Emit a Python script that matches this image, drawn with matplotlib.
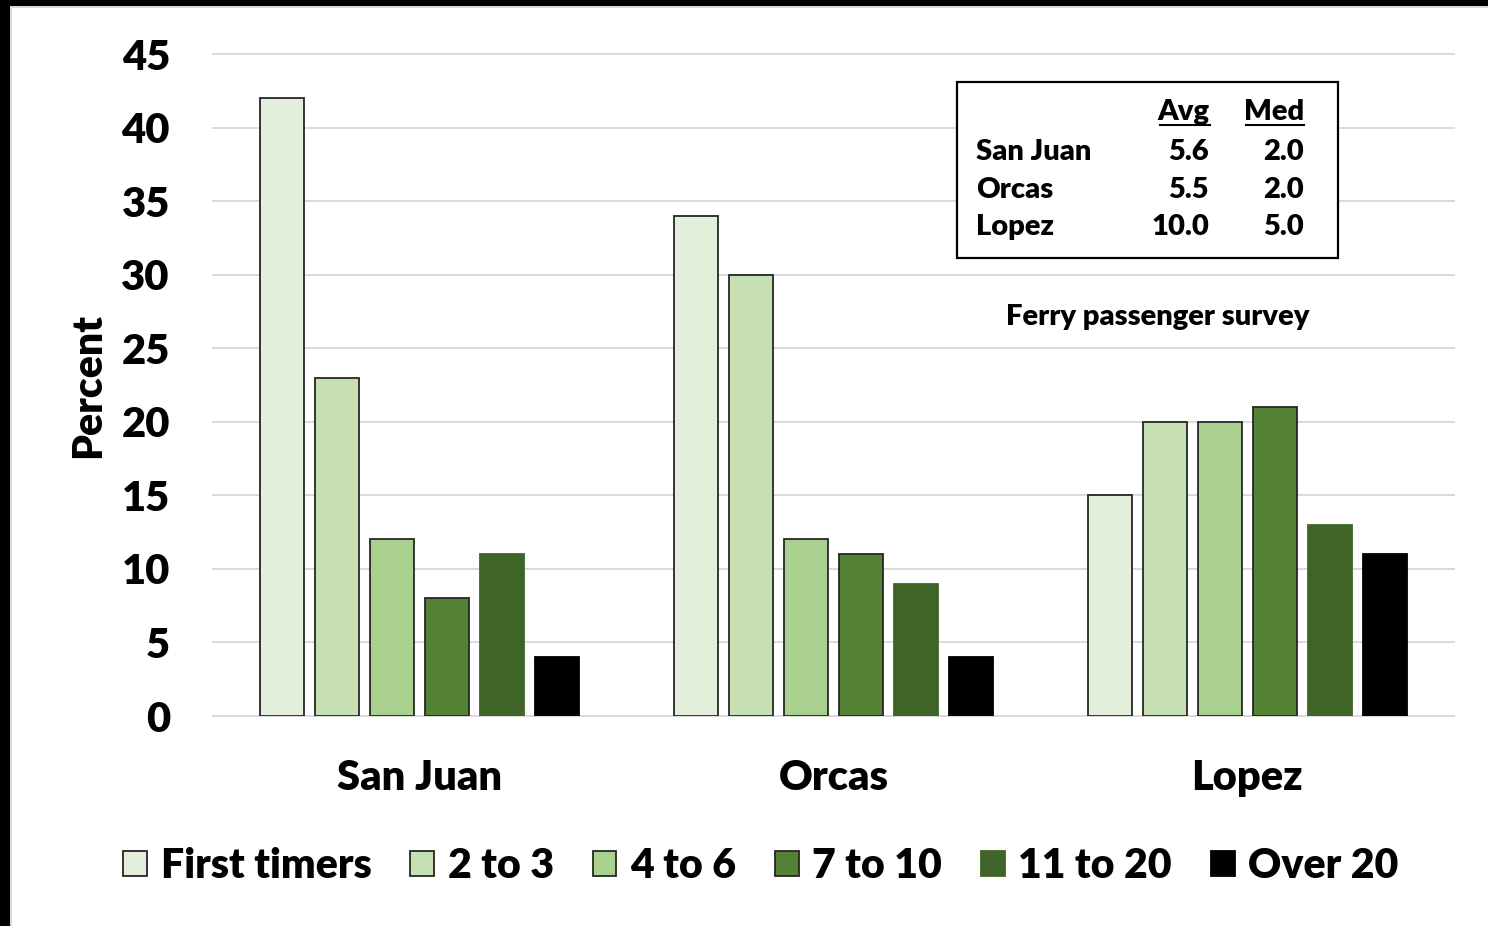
import matplotlib
matplotlib.use("Agg")
import matplotlib.pyplot as plt
import numpy as np
from matplotlib.patches import Rectangle
from matplotlib.lines import Line2D

plt.rcParams['font.family'] = ['Lato', 'DejaVu Sans']
plt.rcParams['font.weight'] = 'heavy'
FW = 'heavy'

islands = ["San Juan", "Orcas", "Lopez"]
series = ["First timers", "2 to 3", "4 to 6", "7 to 10", "11 to 20", "Over 20"]
first_timers = [42, 34, 15]
two_to_3 = [23, 30, 20]
four_to_6 = [12, 12, 20]
seven_to_10 = [8, 11, 21]
eleven_to_20 = [11, 9, 13]
over_20 = [4, 4, 11]
values = [first_timers, two_to_3, four_to_6, seven_to_10, eleven_to_20, over_20]

colors = ["#E2EFDA", "#C6E0B4", "#A9D08E", "#548235", "#3F6427", "#000000"]
edges = ["#262626", "#262626", "#262626", "#262626", "#3F6427", "#000000"]

table_rows = ["San Juan", "Orcas", "Lopez"]
avg_vals = ["5.6", "5.5", "10.0"]
med_vals = ["2.0", "2.0", "5.0"]

W, H = 1488, 926
fig = plt.figure(figsize=(W / 100, H / 100), dpi=100)

def fx(px):
    return px / W

def fy(py):
    return 1 - py / H

ax = fig.add_axes([fx(213), fy(716), fx(1454) - fx(213), fy(54) - fy(716)])
ax.set_xlim(-0.5, 2.5)
ax.set_ylim(0, 45)

x = np.arange(len(islands))
step = 0.133
width = 0.1064
for i, (vals, c, e) in enumerate(zip(values, colors, edges)):
    ax.bar(x + (i - 2.5) * step, vals, width=width, color=c, edgecolor=e,
           linewidth=1.3, label=series[i], zorder=3)

ax.set_yticks(range(0, 46, 5))
ax.yaxis.grid(True, color="#D9D9D9", linewidth=1.4, zorder=0)
for gl in ax.get_ygridlines():
    gl.set_clip_on(False)
ax.set_axisbelow(True)
for s in ax.spines.values():
    s.set_visible(False)
ax.tick_params(axis="y", length=0, pad=31, labelsize=30)
ax.tick_params(axis="x", length=0, pad=31, labelsize=30)
ax.set_xticks(x)
ax.set_xticklabels(islands, fontweight=FW)
for lbl in ax.get_yticklabels():
    lbl.set_fontweight(FW)

fig.text(fx(88), fy(385), "Percent", rotation=90, ha="center", va="center",
         fontsize=29.5, fontweight=FW)

# legend
handles = [Rectangle((0, 0), 1, 1, facecolor=c, edgecolor=e, linewidth=1.3)
           for c, e in zip(colors, edges)]
leg = fig.legend(handles, series, loc="center", bbox_to_anchor=(fx(761), fy(866)),
                 ncol=6, frameon=False, fontsize=29.5, handlelength=0.58,
                 handleheight=0.58, handletextpad=0.33, columnspacing=0.95)
for t in leg.get_texts():
    t.set_fontweight(FW)

# table box
box = Rectangle((fx(957), fy(258)), fx(1338) - fx(957), fy(82) - fy(258),
                transform=fig.transFigure, facecolor="white", edgecolor="black",
                linewidth=1.6, zorder=5)
fig.patches.append(box)
tfs = 21
hdr_y = fy(112)
fig.text(fx(1209), hdr_y, "Avg", ha="right", va="center", fontsize=tfs,
         fontweight=FW, zorder=6)
fig.text(fx(1304), hdr_y, "Med", ha="right", va="center", fontsize=tfs,
         fontweight=FW, zorder=6)
fig.add_artist(Line2D([fx(1160), fx(1210)], [fy(125), fy(125)], color="black",
                      linewidth=1.5, transform=fig.transFigure, zorder=6))
fig.add_artist(Line2D([fx(1246), fx(1304)], [fy(125), fy(125)], color="black",
                      linewidth=1.5, transform=fig.transFigure, zorder=6))
row_ys = [152, 190, 227]
for r, a, m, ry in zip(table_rows, avg_vals, med_vals, row_ys):
    fig.text(fx(976), fy(ry), r, ha="left", va="center", fontsize=tfs,
             fontweight=FW, zorder=6)
    fig.text(fx(1209), fy(ry), a, ha="right", va="center", fontsize=tfs,
             fontweight=FW, zorder=6)
    fig.text(fx(1304), fy(ry), m, ha="right", va="center", fontsize=tfs,
             fontweight=FW, zorder=6)

fig.text(fx(1158), fy(317), "Ferry passenger survey", ha="center", va="center",
         fontsize=21, fontweight=FW)

# black screenshot frame
fig.patches.append(Rectangle((0, 0), fx(10), 1, transform=fig.transFigure,
                             facecolor="black", edgecolor="none", zorder=10))
fig.patches.append(Rectangle((0, fy(6)), 1, 6 / H, transform=fig.transFigure,
                             facecolor="black", edgecolor="none", zorder=10))
fig.patches.append(Rectangle((fx(10), 0), 2 / W, fy(6), transform=fig.transFigure,
                             facecolor="#D9D9D9", edgecolor="none", zorder=10))
fig.patches.append(Rectangle((fx(10), fy(8)), 1, 2 / H, transform=fig.transFigure,
                             facecolor="#D9D9D9", edgecolor="none", zorder=10))

fig.savefig("out.png", dpi=100)
